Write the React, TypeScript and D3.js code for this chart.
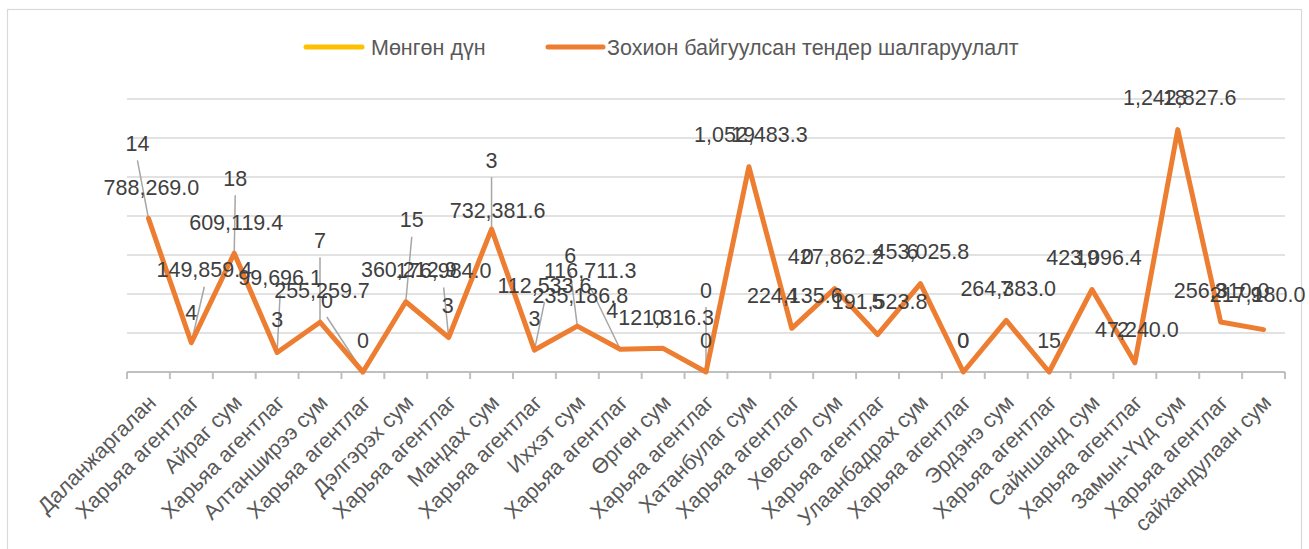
import React from "react";
import * as d3 from "d3";

const categories = [
  "Даланжаргалан", "Харьяа агентлаг", "Айраг сум", "Харьяа агентлаг", "Алтанширээ сум",
  "Харьяа агентлаг", "Дэлгэрэх сум", "Харьяа агентлаг", "Мандах сум", "Харьяа агентлаг",
  "Иххэт сум", "Харьяа агентлаг", "Өргөн сум", "Харьяа агентлаг", "Хатанбулаг сум",
  "Харьяа агентлаг", "Хөвсгөл сум", "Харьяа агентлаг", "Улаанбадрах сум", "Харьяа агентлаг",
  "Эрдэнэ сум", "Харьяа агентлаг", "Сайншанд сум", "Харьяа агентлаг", "Замын-Үүд сум",
  "Харьяа агентлаг", "сайхандулаан сум",
];

const moneyValues = [
  788269.0, 149859.4, 609119.4, 99696.1, 255259.7, 0, 360212.9, 176984.0, 732381.6, 112533.6,
  235186.8, 116711.3, 121316.3, 0, 1052483.3, 224135.6, 427862.2, 191523.8, 453025.8, 0,
  264383.0, 0, 423096.4, 47240.0, 1242827.6, 256310.0, 217180.0,
];

const tenderCounts = [
  14, 4, 18, 3, 7, 0, 15, 3, 3, 3, 6, 4, 0, 0, 19, 4, 0, 5, 6, 0, 7, 15, 19, 2, 18, 3, 9,
];

const yTicks = [0, 200000, 400000, 600000, 800000, 1000000, 1200000, 1400000];

const legendLabels = ["Мөнгөн дүн", "Зохион байгуулсан тендер шалгаруулалт"];

// label layout (offsets from the data point, in px) and whether a leader line is drawn
const moneyLabelOffsets: [number, number, boolean][] = [
  [3, -31, false], [13, -73, true], [2, -31, false], [3, -75, true], [2, -32, false],
  [0, -32, false], [3, -32, false], [-5, -67, true], [6, -19, false], [10, -65, true],
  [3, -31, false], [-30, -79, true], [3, -31, false], [0, -32, false], [2, -32, false],
  [3, -33, false], [1, -32, false], [2, -33, false], [1, -32, false], [0, -32, false],
  [2, -32, false], [0, -32, false], [2, -32, false], [2, -33, false], [2, -32, false],
  [1, -32, false], [-6, -35, false],
];
const hiddenMoneyLabels = [21];

const countLabelOffsets: [number, number, boolean][] = [
  [-11, -75, true], [0, -30, false], [1, -75, true], [0, -33, false], [0, -82, true],
  [-36, -72, true], [6, -82, true], [-1, -32, false], [0, -69, true], [0, -32, false],
  [-7, -71, true], [-8, -39, false], [-5, -31, false], [0, -82, true], [-6, -32, false],
  [0, -33, false], [-27, -32, false], [0, -33, false], [-8, -32, false], [0, -32, false],
  [0, -32, false], [0, -32, false], [-5, -32, false], [-12, -33, false], [-3, -32, false],
  [0, -32, false], [-7, -35, false],
];

const W = 1309;
const H = 549;
const FONT = "'Liberation Sans', Arial, sans-serif";

export default function App() {
  React.useEffect(() => {
    document.body.style.margin = "0";
  }, []);

  const x = d3.scaleBand<number>().domain(categories.map((_, i) => i)).range([127, 1285]).padding(0);
  const y = d3.scaleLinear().domain([0, 1400000]).range([372, 99]);
  const cx = (i: number) => (x(i) as number) + x.bandwidth() / 2;
  const fmt = d3.format(",.1f");

  const line = d3
    .line<number>()
    .x((_, i) => cx(i))
    .y((d) => y(d));

  const boundaries = d3.range(categories.length + 1).map((i) => 127 + i * x.bandwidth());

  return (
    <svg width={W} height={H} style={{ display: "block", position: "absolute", left: 0, top: 0 }} fontFamily={FONT}>
      <rect x={0} y={0} width={W} height={H} fill="#fff" />
      <rect x={7.5} y={9.5} width={1294} height={548} fill="none" stroke="#d9d9d9" strokeWidth={1.2} />

      {/* legend */}
      <g>
        <line x1={306} x2={362} y1={47} y2={47} stroke="#FFC000" strokeWidth={5} strokeLinecap="round" />
        <text x={371} y={47} dy="0.35em" fontSize={21.5} fill="#595959">{legendLabels[0]}</text>
        <line x1={548} x2={603} y1={47} y2={47} stroke="#ED7D31" strokeWidth={5} strokeLinecap="round" />
        <text x={607} y={47} dy="0.35em" fontSize={21.5} fill="#595959">{legendLabels[1]}</text>
      </g>

      {/* gridlines */}
      {yTicks.slice(1).map((t) => (
        <line key={t} x1={127} x2={1285} y1={y(t)} y2={y(t)} stroke="#d9d9d9" strokeWidth={1.5} />
      ))}

      {/* x axis */}
      <line x1={127} x2={1285} y1={y(0)} y2={y(0)} stroke="#bfbfbf" strokeWidth={2} />
      {boundaries.map((b, i) => (
        <line key={i} x1={b} x2={b} y1={y(0)} y2={y(0) + 7} stroke="#bfbfbf" strokeWidth={2} />
      ))}
      {categories.map((c, i) => (
        <text
          key={i}
          transform={`translate(${cx(i) + 9},${y(0) + 32}) rotate(-45)`}
          textAnchor="end"
          fontSize={21.5}
          fill="#595959"
        >
          {c}
        </text>
      ))}

      {/* leader lines */}
      {moneyValues.map((v, i) => {
        const [dx, dy, lead] = moneyLabelOffsets[i];
        if (!lead) return null;
        return (
          <line key={"ml" + i} x1={cx(i) + dx} y1={y(v) + dy + 17} x2={cx(i)} y2={y(v)} stroke="#a6a6a6" strokeWidth={1.5} />
        );
      })}
      {tenderCounts.map((_, i) => {
        const [dx, dy, lead] = countLabelOffsets[i];
        if (!lead) return null;
        const v = moneyValues[i];
        return (
          <line key={"cl" + i} x1={cx(i) + dx} y1={y(v) + dy + 17} x2={cx(i)} y2={y(v)} stroke="#a6a6a6" strokeWidth={1.5} />
        );
      })}

      {/* series line */}
      <path d={line(moneyValues) || ""} fill="none" stroke="#ED7D31" strokeWidth={5} strokeLinejoin="round" strokeLinecap="round" />

      {/* data labels */}
      {moneyValues.map((v, i) => {
        if (hiddenMoneyLabels.includes(i)) return null;
        const [dx, dy] = moneyLabelOffsets[i];
        return (
          <text key={"m" + i} x={cx(i) + dx} y={y(v) + dy} dy="0.35em" textAnchor="middle" fontSize={21.5} fill="#404040">
            {fmt(v).replace(/^0\.0$/, "0")}
          </text>
        );
      })}
      {tenderCounts.map((c, i) => {
        const [dx, dy] = countLabelOffsets[i];
        const v = moneyValues[i];
        return (
          <text key={"c" + i} x={cx(i) + dx} y={y(v) + dy} dy="0.35em" textAnchor="middle" fontSize={21.5} fill="#404040">
            {c}
          </text>
        );
      })}
    </svg>
  );
}
